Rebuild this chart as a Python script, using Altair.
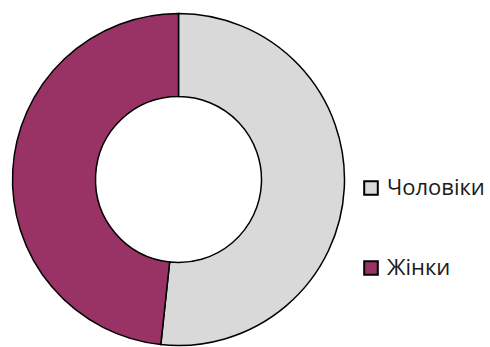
import altair as alt
import pandas as pd

categories = ["Чоловіки", "Жінки"]
shares = [51.7, 48.3]
colors = ["#d9d9d9", "#993366"]

df = pd.DataFrame({"category": categories, "share": shares, "order": [0, 1]})

chart = alt.Chart(df).mark_arc(
    outerRadius=166, innerRadius=83, stroke="black", strokeWidth=1.5
).encode(
    theta=alt.Theta("share:Q", stack=True),
    order=alt.Order("order:Q"),
    color=alt.Color(
        "category:N",
        scale=alt.Scale(domain=categories, range=colors),
        legend=alt.Legend(
            title=None,
            orient="none",
            legendX=360,
            legendY=177,
            padding=0,
            symbolType="square",
            symbolSize=185,
            symbolStrokeColor="black",
            symbolStrokeWidth=2,
            labelFontSize=22,
            labelFont="Open Sans",
            labelColor="#1a1a1a",
            rowPadding=58,
            labelOffset=5,
        ),
    ),
    x=alt.value(178.5),
    y=alt.value(179.5),
).properties(
    width=490, height=347,
    autosize=alt.AutoSizeParams(type="none"),
    padding=0,
).configure_view(stroke=None)

chart.save("out.html", embed_options={"renderer": "svg", "actions": False})
